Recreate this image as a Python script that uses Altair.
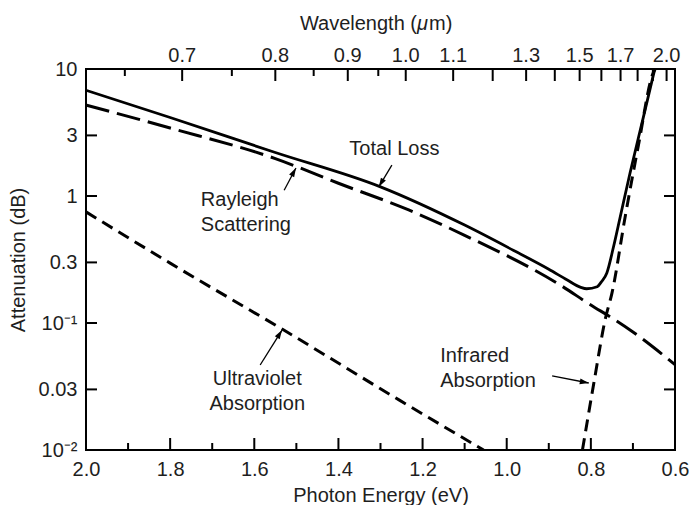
import altair as alt
import pandas as pd

# ---- data (photon energy in eV, attenuation in dB) ----
total_E = [2.0, 1.8, 1.55, 1.3, 1.1, 0.975, 0.9, 0.856, 0.824, 0.81, 0.785, 0.775, 0.762, 0.746, 0.73, 0.707, 0.675, 0.648]
total_dB = [6.8, 4.15, 2.2, 1.18, 0.59, 0.36, 0.265, 0.218, 0.191, 0.186, 0.193, 0.211, 0.248, 0.40, 0.69, 1.51, 4.2, 10.0]

rayleigh_E = [2.0, 1.8, 1.55, 1.4, 1.233, 1.1, 0.88, 0.79, 0.76, 0.7, 0.6]
rayleigh_dB = [5.2, 3.43, 1.97, 1.26, 0.776, 0.49, 0.206, 0.132, 0.115, 0.085, 0.047]

uv_E = [2.0, 1.8, 1.53, 1.256, 1.055]
uv_dB = [0.75, 0.296, 0.088, 0.0248, 0.01]

ir_E = [0.82, 0.793, 0.765, 0.75, 0.718, 0.687, 0.652, 0.647]
ir_dB = [0.01, 0.0335, 0.11, 0.171, 0.7, 2.5, 9.3, 10.0]

# axis ticks
bottom_major = [2.0, 1.8, 1.6, 1.4, 1.2, 1.0, 0.8, 0.6]
bottom_minor = [1.9, 1.7, 1.5, 1.3, 1.1, 0.9, 0.7]
top_labels_um = [0.7, 0.8, 0.9, 1.0, 1.1, 1.3, 1.5, 1.7, 2.0]
top_major_um = [0.7, 0.8, 0.9, 1.0, 1.1, 1.2, 1.3, 1.4, 1.5, 1.6, 1.7, 1.8, 1.9, 2.0]
top_minor_um = [0.65, 0.75, 0.85, 0.95]
y_ticks = [0.01, 0.03, 0.1, 0.3, 1, 3, 10]
y_right_ticks = [0.03, 0.1, 0.3, 1, 3]
HC = 1.24  # eV*um

# annotations: text, anchor energy, anchor dB
labels_text = ["Total Loss", "Rayleigh\nScattering", "Ultraviolet\nAbsorption", "Infrared\nAbsorption"]
labels_E = [1.374, 1.727, 1.593, 1.158]
labels_dB = [2.10, 0.84, 0.0325, 0.0496]
arrow_E0 = [1.273, 1.529, 1.586, 0.892]
arrow_dB0 = [1.75, 1.11, 0.0467, 0.0383]
arrow_E1 = [1.304, 1.501, 1.534, 0.805]
arrow_dB1 = [1.18, 1.66, 0.088, 0.0337]

W, H = 589, 381
FONT = "Liberation Sans"
INK = "#1e1e1e"

xs = alt.Scale(domain=[0.6, 2.0], reverse=True, nice=False, zero=False)
ys = alt.Scale(type="log", domain=[0.01, 10], nice=False)
XN = dict(scale=xs, axis=None)
YN = dict(scale=ys, axis=None)


def curve(E, dB, width, dash=None):
    df = pd.DataFrame({"E": E, "dB": dB})
    kw = dict(color="black", strokeWidth=width, clip=True, interpolate="monotone")
    if dash:
        kw["strokeDash"] = dash
    return alt.Chart(df).mark_line(**kw).encode(
        x=alt.X("E:Q", **XN),
        y=alt.Y("dB:Q", **YN),
        order=alt.Order("E:Q", sort="descending"),
    )


layers = []

# left axis (labels + title) with inward ticks
layers.append(
    alt.Chart(pd.DataFrame({"v": y_ticks})).mark_rule(color="black", strokeWidth=2).encode(
        y=alt.Y("v:Q", scale=ys, axis=alt.Axis(
            orient="left", values=y_ticks, ticks=False, domain=False, grid=False, labelPadding=9,
            labelExpr="datum.value < 0.015 ? '10⁻²' : (datum.value < 0.05 ? '0.03' : (datum.value < 0.15 ? '10⁻¹' : (datum.value < 0.5 ? '0.3' : format(datum.value, 'd'))))",
            labelFont=FONT, labelFontSize=20, labelColor=INK, title="Attenuation (dB)",
            titleFont=FONT, titleFontSize=20, titleFontWeight="normal", titleColor=INK,
            titlePadding=10)),
        x=alt.value(0), x2=alt.value(11))
)
layers.append(
    alt.Chart(pd.DataFrame({"v": y_right_ticks})).mark_rule(color="black", strokeWidth=2).encode(
        y=alt.Y("v:Q", **YN), x=alt.value(W - 11), x2=alt.value(W))
)

# bottom axis (labels) + inward ticks
layers.append(
    alt.Chart(pd.DataFrame({"E": bottom_major})).mark_rule(color="black", strokeWidth=2).encode(
        x=alt.X("E:Q", scale=xs, axis=alt.Axis(
            orient="bottom", values=bottom_major, format=".1f", ticks=False, domain=False, grid=False,
            labelFlush=False, labelOverlap=False, labelPadding=9, labelFont=FONT, labelFontSize=20,
            labelColor=INK, title="Photon Energy (eV)", titleFont=FONT, titleFontSize=20,
            titleFontWeight="normal", titleColor=INK, titlePadding=6)),
        y=alt.value(H), y2=alt.value(H - 12))
)
layers.append(
    alt.Chart(pd.DataFrame({"E": bottom_minor})).mark_rule(color="black", strokeWidth=2).encode(
        x=alt.X("E:Q", **XN), y=alt.value(H), y2=alt.value(H - 7))
)

# top wavelength scale: ticks and labels placed through the energy scale (E = hc / lambda)
layers.append(
    alt.Chart(pd.DataFrame({"um": top_major_um})).transform_calculate(E=f"{HC}/datum.um")
    .mark_rule(color="black", strokeWidth=2).encode(
        x=alt.X("E:Q", **XN), y=alt.value(0), y2=alt.value(12))
)
layers.append(
    alt.Chart(pd.DataFrame({"um": top_minor_um})).transform_calculate(E=f"{HC}/datum.um")
    .mark_rule(color="black", strokeWidth=2).encode(
        x=alt.X("E:Q", **XN), y=alt.value(0), y2=alt.value(7))
)
layers.append(
    alt.Chart(pd.DataFrame({"um": top_labels_um}))
    .transform_calculate(E=f"{HC}/datum.um", lab="format(datum.um, '.1f')")
    .mark_text(font=FONT, fontSize=20, color=INK, align="center", baseline="alphabetic").encode(
        x=alt.X("E:Q", **XN), y=alt.value(-7), text="lab:N")
)
# top axis title: "Wavelength (" + italic mu + "m)"
layers.append(
    alt.Chart(pd.DataFrame({"t": ["Wavelength ("]})).mark_text(
        font=FONT, fontSize=20, color=INK, align="right", baseline="alphabetic").encode(
        x=alt.value(331), y=alt.value(-39), text="t:N")
)
layers.append(
    alt.Chart(pd.DataFrame({"t": ["μ"]})).mark_text(
        font=FONT, fontSize=20, color=INK, align="left", baseline="alphabetic", fontStyle="italic").encode(
        x=alt.value(331), y=alt.value(-39), text="t:N")
)
layers.append(
    alt.Chart(pd.DataFrame({"t": ["m)"]})).mark_text(
        font=FONT, fontSize=20, color=INK, align="left", baseline="alphabetic").encode(
        x=alt.value(343), y=alt.value(-39), text="t:N")
)

# curves
layers.append(curve(uv_E, uv_dB, 3, [12, 7]))
layers.append(curve(ir_E, ir_dB, 3, [12, 7]))
layers.append(curve(rayleigh_E, rayleigh_dB, 3, [24, 8]))
layers.append(curve(total_E, total_dB, 2.8))

# annotations
ann = pd.DataFrame({"t": labels_text, "E": labels_E, "dB": labels_dB})
aligns = ["left", "left", "center", "left"]
for i, a in enumerate(aligns):
    layers.append(
        alt.Chart(ann.iloc[[i]]).mark_text(
            align=a, baseline="alphabetic", font=FONT, fontSize=20, color=INK,
            lineBreak="\n", lineHeight=25).encode(
            x=alt.X("E:Q", **XN), y=alt.Y("dB:Q", **YN), text="t:N")
    )

arr = pd.DataFrame({"E0": arrow_E0, "d0": arrow_dB0, "E1": arrow_E1, "d1": arrow_dB1})
layers.append(
    alt.Chart(arr).mark_rule(color="black", strokeWidth=1.3).encode(
        x=alt.X("E0:Q", **XN), y=alt.Y("d0:Q", **YN),
        x2="E1:Q", y2="d1:Q")
)
angles = [120.6, 298.6, 302.2, 10.7]
for i, ang in enumerate(angles):
    layers.append(
        alt.Chart(arr.iloc[[i]]).mark_point(
            shape="M0,0L-1,-0.32L-1,0.32Z", filled=True, color="black", size=324,
            angle=ang, opacity=1, strokeWidth=0).encode(
            x=alt.X("E1:Q", **XN), y=alt.Y("d1:Q", **YN))
    )

chart = alt.layer(*layers).resolve_axis(x="independent", y="independent").properties(
    width=W, height=H, background="white",
    padding={"left": 0, "top": 6, "right": 0, "bottom": 0}
).configure_view(stroke="black", strokeWidth=2)

chart.save("out.html", embed_options={"renderer": "svg", "actions": False})
